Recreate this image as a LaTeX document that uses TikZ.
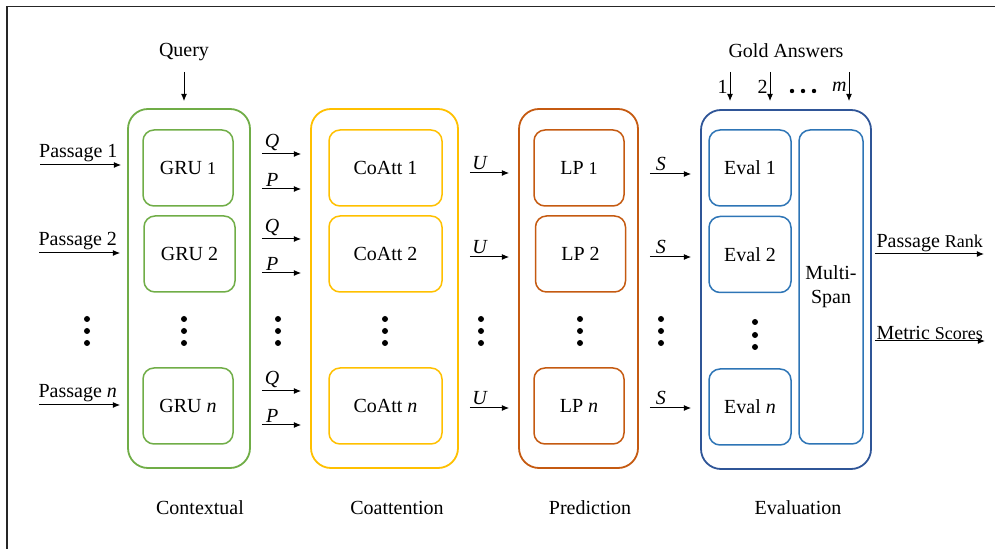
\documentclass[tikz,border=0pt]{standalone}
\usepackage{fontspec}
\setmainfont{Liberation Serif}
\usetikzlibrary{arrows.meta,positioning}

\definecolor{ctxgreen}{HTML}{70AD47}
\definecolor{attyellow}{HTML}{FFC000}
\definecolor{predorange}{HTML}{C55A11}
\definecolor{evaldark}{HTML}{2F5597}
\definecolor{evalblue}{HTML}{2E75B6}

\begin{document}
\begin{tikzpicture}[x=0.5pt, y=-0.5pt,
        block/.style={draw, rounded corners=10pt, line width=0.9pt, inner sep=0pt},
        unit/.style={draw, rounded corners=5.5pt, line width=0.75pt, inner sep=0pt,
        minimum height=38pt, align=center},
        link/.style={-{Latex[length=3.6pt,width=3pt]}, line width=0.5pt},
        gap/.style={shorten <=5.5pt, shorten >=4.5pt},
        lab/.style={above, inner sep=1.2pt, pos=0.36}]
        \useasboundingbox (0,0) rectangle (995,549);
        \draw [line width=0.8pt, black!85] (7,549) -- (7,6.5) -- (995,6.5);

        % stage frames
        \node (ctx) [block, draw=ctxgreen, minimum width=61pt, minimum height=179.5pt] at (189,288.5) {};
        \node (coatt) [block, draw=attyellow, minimum width=73.5pt, minimum height=179.5pt] at (384.5,288.5) {};
        \node (pred) [block, draw=predorange, minimum width=59.5pt, minimum height=179.5pt] at (578.5,288.5) {};
        \node (eval) [block, draw=evaldark, minimum width=85pt, minimum height=179.5pt] at (786,289.5) {};

        % units
        \node (gru1) [unit, draw=ctxgreen, minimum width=45pt] at (188,168) {GRU {\small 1}};
        \node (gru2) [unit, draw=ctxgreen, minimum width=45.5pt] at (189.5,254) {GRU 2};
        \node (grun) [unit, draw=ctxgreen, minimum width=45pt] at (188,406) {GRU \textit{n}};

        \node (coatt1) [unit, draw=attyellow, minimum width=56.5pt] at (385.5,168) {CoAtt 1};
        \node (coatt2) [unit, draw=attyellow, minimum width=56.5pt] at (385.5,254) {CoAtt 2};
        \node (coattn) [unit, draw=attyellow, minimum width=56.5pt] at (385.5,406) {CoAtt \textit{n}};

        \node (lp1) [unit, draw=predorange, minimum width=45pt] at (579,168) {LP {\small 1}};
        \node (lp2) [unit, draw=predorange, minimum width=45pt] at (580.5,254) {LP 2};
        \node (lpn) [unit, draw=predorange, minimum width=45pt] at (579,406) {LP \textit{n}};

        \node (eval1) [unit, draw=evalblue, minimum width=41pt] at (750,168) {Eval 1};
        \node (eval2) [unit, draw=evalblue, minimum width=41pt] at (750,254.5) {Eval 2};
        \node (evaln) [unit, draw=evalblue, minimum width=41pt] at (750,407) {Eval \textit{n}};
        \node (multi) [unit, draw=evalblue, minimum width=32pt, minimum height=157pt] at (831,287)
        {Multi-\\Span};

        % inputs
        \node (query) at (184,52) {Query};
        \draw [link, shorten <=2pt, shorten >=3.5pt] (query.south) -- (query.south |- ctx.north);

        \coordinate (in1) at (40,165);
        \coordinate (in2) at (39,253);
        \coordinate (inn) at (39,405);
        \draw [link, shorten >=3pt] (in1) -- (in1 -| ctx.west) node [above, pos=0.44, inner sep=1.5pt] {Passage 1};
        \draw [link, shorten >=3.5pt] (in2) -- (in2 -| ctx.west) node [above, pos=0.44, inner sep=1.5pt] {Passage 2};
        \draw [link, shorten >=3.5pt] (inn) -- (inn -| ctx.west) node [above, pos=0.44, inner sep=1.5pt] {Passage \textit{n}};

        % between stages
        \draw [link, gap] (ctx.east |- 0,154) -- (coatt.west |- 0,154) node [lab] {\textit{Q}};
        \draw [link, gap] (ctx.east |- 0,189) -- (coatt.west |- 0,189) node [lab] {\textit{P}};
        \draw [link, gap] (ctx.east |- 0,239) -- (coatt.west |- 0,239) node [lab] {\textit{Q}};
        \draw [link, gap] (ctx.east |- 0,273) -- (coatt.west |- 0,273) node [lab] {\textit{P}};
        \draw [link, gap] (ctx.east |- 0,391) -- (coatt.west |- 0,391) node [lab] {\textit{Q}};
        \draw [link, gap] (ctx.east |- 0,425) -- (coatt.west |- 0,425) node [lab] {\textit{P}};

        \draw [link, gap] (coatt.east |- 0,173) -- (pred.west |- 0,173) node [lab] {\textit{U}};
        \draw [link, gap] (coatt.east |- 0,257) -- (pred.west |- 0,257) node [lab] {\textit{U}};
        \draw [link, gap] (coatt.east |- 0,408) -- (pred.west |- 0,408) node [lab] {\textit{U}};

        \draw [link, gap] (pred.east |- 0,174) -- (eval.west |- 0,174) node [lab] {\textit{S}};
        \draw [link, gap] (pred.east |- 0,257) -- (eval.west |- 0,257) node [lab] {\textit{S}};
        \draw [link, gap] (pred.east |- 0,408) -- (eval.west |- 0,408) node [lab] {\textit{S}};

        % gold answers
        \node (gold) at (786,51) {Gold Answers};
        \coordinate (ans1) at (730,72);
        \coordinate (ans2) at (770,72);
        \coordinate (ansm) at (849,72);
        \draw [link, shorten >=4pt] (ans1) -- (ans1 |- eval.north) node [left, pos=0.4, inner sep=1pt] {1};
        \draw [link, shorten >=4pt] (ans2) -- (ans2 |- eval.north) node [left, pos=0.4, inner sep=1pt] {2};
        \draw [link, shorten >=4pt] (ansm) -- (ansm |- eval.north) node [left, pos=0.4, inner sep=1pt] {\textit{m}};
        \foreach \x in {792,803,814} \fill (\x,91) circle (1.1pt);

        % outputs
        \coordinate (rank) at (984,254);
        \coordinate (score) at (985,341);
        \draw [link, shorten <=1.5pt] (eval.east |- rank) -- (rank)
        node [above right, pos=0, inner sep=0.6pt, xshift=1.5pt] {Passage {\small Rank}};
        \draw [link, shorten <=1.5pt] (eval.east |- score) -- (score)
        node [above right, pos=0, inner sep=0.6pt, xshift=1.5pt] {Metric {\small Scores}};

        % vertical dots
        \foreach \x in {87,184,278,385,481,580,661}
            \foreach \y in {319,331,343} \fill (\x,\y) circle (1.5pt);
        \foreach \y in {322,335,347} \fill (755,\y) circle (1.5pt);

        % stage names
        \node (ctxname) at (200,508) {Contextual};
        \node (coattname) at (397,508) {Coattention};
        \node (predname) at (590,508) {Prediction};
        \node (evalname) at (798,508) {Evaluation};
\end{tikzpicture}
\end{document}
